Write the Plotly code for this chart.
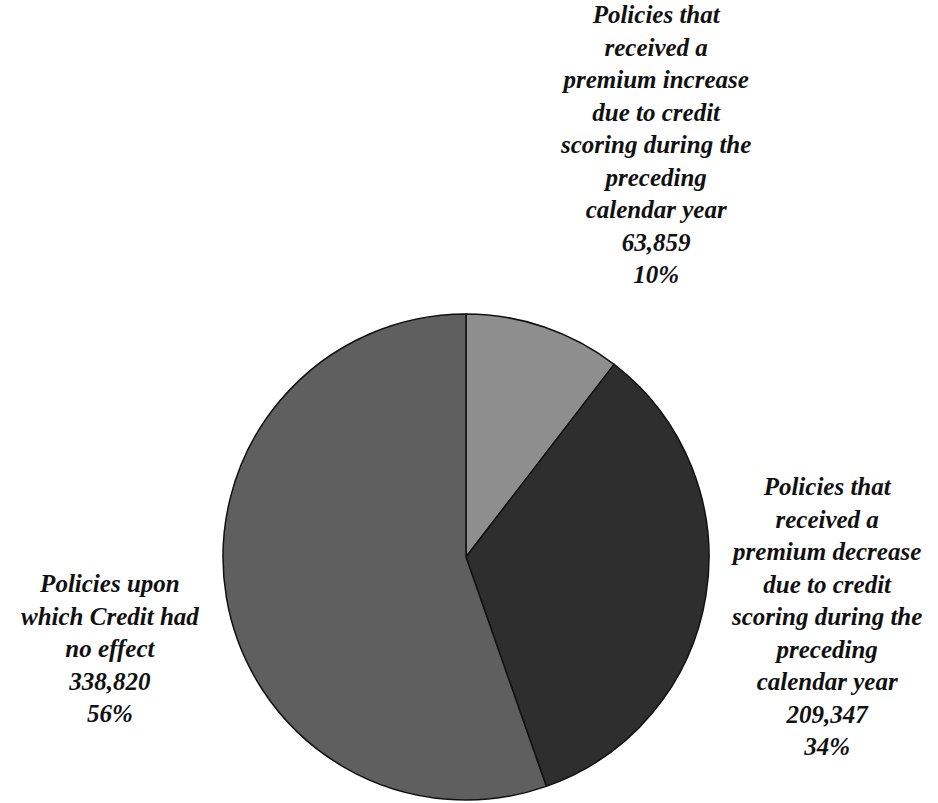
import plotly.graph_objects as go

labels = [
    "Policies that received a premium increase due to credit scoring during the preceding calendar year",
    "Policies that received a premium decrease due to credit scoring during the preceding calendar year",
    "Policies upon which Credit had no effect",
]
label_lines = [
    ["Policies that", "received a", "premium increase", "due to credit", "scoring during the", "preceding", "calendar year"],
    ["Policies that", "received a", "premium decrease", "due to credit", "scoring during the", "preceding", "calendar year"],
    ["Policies upon", "which Credit had", "no effect"],
]
values = [63859, 209347, 338820]
percent_labels = ["10%", "34%", "56%"]
colors = ["#8e8e8e", "#2e2e2e", "#5f5f5f"]

W, H = 938, 803
cx, cy, r = 466, 557, 243

fig = go.Figure()
fig.add_trace(go.Pie(
    labels=labels,
    values=values,
    sort=False,
    direction="clockwise",
    rotation=0,
    textinfo="none",
    hoverinfo="label+value+percent",
    marker=dict(colors=colors, line=dict(color="#111111", width=1.5)),
    domain=dict(x=[(cx - r) / W, (cx + r) / W], y=[1 - (cy + r) / H, 1 - (cy - r) / H]),
    showlegend=False,
))

label_pos = [(655, 144), (826, 616), (110, 648)]
for lines, v, p, (x, y) in zip(label_lines, values, percent_labels, label_pos):
    text = "<br>".join(lines + [f"{v:,}", p])
    fig.add_annotation(
        x=x / W, y=1 - y / H, xref="paper", yref="paper",
        xanchor="center", yanchor="middle", align="center",
        text=f"<b><i>{text}</i></b>", showarrow=False,
        font=dict(family="Liberation Serif", size=25, color="#111111"),
    )

fig.update_layout(
    width=W, height=H,
    margin=dict(l=0, r=0, t=0, b=0),
    paper_bgcolor="white", plot_bgcolor="white",
)
fig.write_html("out.html")
